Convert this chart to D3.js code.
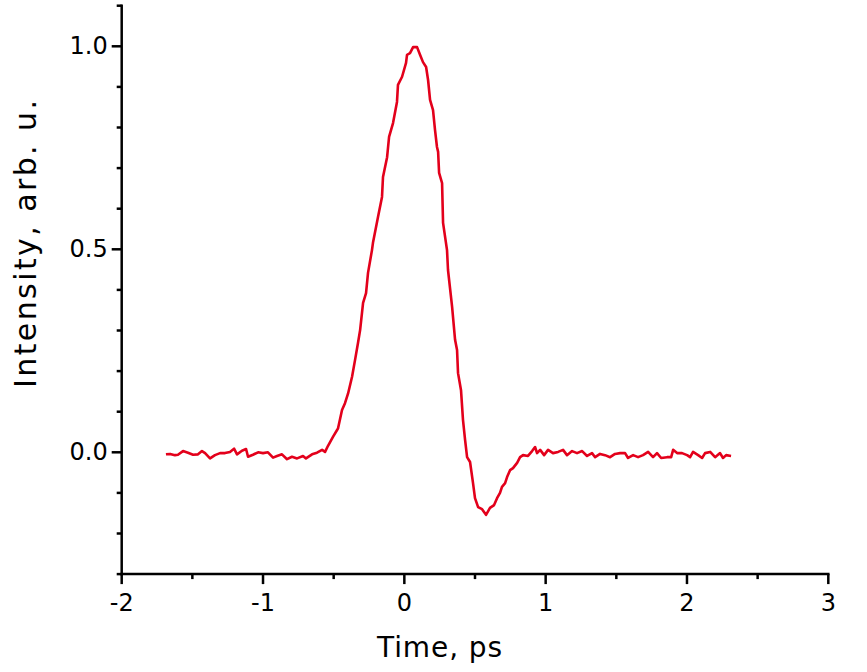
<!DOCTYPE html>
<html lang="en">
<head>
  <meta charset="UTF-8">
  <title>Pulse intensity vs time</title>
  <script src="https://d3js.org/d3.v7.min.js"></script>
  <style>
    body { margin: 0; background: #fff; }
    svg text { font-family: "DejaVu Sans", Verdana, sans-serif; fill: #000; }
  </style>
</head>
<body>
  <svg id="chart" width="867" height="672"></svg>
  <script>
    // time, ps
    const time = [
      -1.687, -1.658, -1.623, -1.602, -1.566, -1.531, -1.495, -1.460, -1.432, -1.410,
      -1.375, -1.340, -1.304, -1.269, -1.234, -1.205, -1.184, -1.149, -1.120, -1.106,
      -1.071, -1.035, -1.000, -0.965, -0.929, -0.901, -0.866, -0.830, -0.795, -0.759,
      -0.717, -0.696, -0.653, -0.618, -0.582, -0.561, -0.540, -0.505, -0.476, -0.469,
      -0.441, -0.420, -0.398, -0.370, -0.349, -0.328, -0.313, -0.292, -0.271, -0.257,
      -0.229, -0.222, -0.186, -0.158, -0.151, -0.122, -0.108, -0.080, -0.052, -0.045,
      -0.016, 0.012, 0.019, 0.040, 0.062, 0.090, 0.111, 0.132, 0.154, 0.168,
      0.182, 0.203, 0.217, 0.231, 0.239, 0.246, 0.267, 0.274, 0.302, 0.309,
      0.338, 0.359, 0.373, 0.380, 0.401, 0.415, 0.430, 0.444, 0.465, 0.486,
      0.500, 0.522, 0.550, 0.578, 0.606, 0.635, 0.656, 0.677, 0.691, 0.713,
      0.727, 0.748, 0.769, 0.798, 0.819, 0.840, 0.875, 0.904, 0.925, 0.939,
      0.961, 0.989, 1.017, 1.052, 1.088, 1.123, 1.151, 1.187, 1.222, 1.258,
      1.293, 1.328, 1.350, 1.385, 1.420, 1.456, 1.491, 1.527, 1.562, 1.583,
      1.619, 1.654, 1.689, 1.725, 1.760, 1.788, 1.817, 1.859, 1.888, 1.902,
      1.930, 1.965, 2.001, 2.022, 2.043, 2.079, 2.107, 2.128, 2.164, 2.199,
      2.234, 2.255, 2.277, 2.312
    ];
    // intensity, arb. u.
    const intensity = [
      -0.005, -0.004, -0.007, -0.006, 0.003, -0.001, -0.006, -0.005, 0.003, -0.002,
      -0.015, -0.007, -0.002, -0.002, 0.001, 0.009, -0.005, 0.004, 0.008, -0.011,
      -0.006, 0.000, -0.002, 0.000, -0.013, -0.009, -0.005, -0.017, -0.011, -0.015,
      -0.009, -0.015, -0.005, -0.001, 0.006, 0.001, 0.016, 0.038, 0.055, 0.059,
      0.104, 0.121, 0.145, 0.186, 0.227, 0.269, 0.301, 0.368, 0.392, 0.442,
      0.498, 0.516, 0.580, 0.629, 0.678, 0.727, 0.777, 0.811, 0.863, 0.905,
      0.925, 0.959, 0.979, 0.983, 0.998, 0.998, 0.979, 0.961, 0.949, 0.917,
      0.868, 0.843, 0.794, 0.752, 0.740, 0.688, 0.663, 0.565, 0.498, 0.449,
      0.358, 0.277, 0.252, 0.195, 0.153, 0.080, 0.030, -0.012, -0.024, -0.076,
      -0.113, -0.135, -0.140, -0.154, -0.137, -0.130, -0.113, -0.100, -0.085, -0.076,
      -0.061, -0.044, -0.039, -0.026, -0.012, -0.007, -0.009, 0.003, 0.013, -0.002,
      0.006, -0.007, 0.006, -0.002, 0.001, 0.006, -0.007, 0.003, -0.002, 0.003,
      -0.009, -0.002, -0.012, -0.004, -0.007, -0.012, -0.004, -0.002, -0.002, -0.014,
      -0.007, -0.012, -0.007, 0.001, -0.012, -0.002, -0.014, -0.012, -0.012, 0.006,
      -0.002, -0.002, -0.007, -0.012, 0.001, -0.007, -0.014, -0.002, 0.001, -0.012,
      -0.002, -0.014, -0.007, -0.009
    ];
    const xMajor = [-2, -1, 0, 1, 2, 3];
    const xMinor = [-1.5, -0.5, 0.5, 1.5, 2.5];
    const yMajor = [0, 0.5, 1.0];
    const yMinor = [-0.3, -0.2, -0.1, 0.1, 0.2, 0.3, 0.4, 0.6, 0.7, 0.8, 0.9, 1.1];

    const svg = d3.select("#chart");
    const x = d3.scaleLinear().domain([-2, 3]).range([121.7, 828.3]);
    const y = d3.scaleLinear().domain([-0.3, 1.1]).range([574.1, 5.7]);

    const data = time.map((t, i) => ({ t: t, v: intensity[i] }));

    // axes
    const axisG = svg.append("g").attr("stroke", "#000").attr("stroke-width", 2.5).attr("fill", "none");
    axisG.append("line").attr("x1", x(-2)).attr("x2", x(3)).attr("y1", y(-0.3)).attr("y2", y(-0.3)).attr("stroke-linecap", "square");
    axisG.append("line").attr("x1", x(-2)).attr("x2", x(-2)).attr("y1", y(-0.3)).attr("y2", y(1.1)).attr("stroke-linecap", "square");

    axisG.selectAll(".xmaj").data(xMajor).enter().append("line")
      .attr("x1", d => x(d)).attr("x2", d => x(d)).attr("y1", y(-0.3)).attr("y2", y(-0.3) + 10);
    axisG.selectAll(".xmin").data(xMinor).enter().append("line")
      .attr("x1", d => x(d)).attr("x2", d => x(d)).attr("y1", y(-0.3)).attr("y2", y(-0.3) + 5);
    axisG.selectAll(".ymaj").data(yMajor).enter().append("line")
      .attr("x1", x(-2) - 10).attr("x2", x(-2)).attr("y1", d => y(d)).attr("y2", d => y(d));
    axisG.selectAll(".ymin").data(yMinor).enter().append("line")
      .attr("x1", x(-2) - 5).attr("x2", x(-2)).attr("y1", d => y(d)).attr("y2", d => y(d));

    svg.selectAll(".xlab").data(xMajor).enter().append("text")
      .attr("x", d => x(d)).attr("y", y(-0.3) + 37)
      .attr("text-anchor", "middle").attr("font-size", 24)
      .text(d => d);
    svg.selectAll(".ylab").data(yMajor).enter().append("text")
      .attr("x", x(-2) - 14).attr("y", d => y(d) + 8)
      .attr("text-anchor", "end").attr("font-size", 24)
      .text(d => d.toFixed(1));

    svg.append("text").attr("x", 439.5).attr("y", 657)
      .attr("text-anchor", "middle").attr("font-size", 28)
      .attr("textLength", 125).attr("lengthAdjust", "spacing").text("Time, ps");
    svg.append("text").attr("transform", "translate(36,388) rotate(-90)")
      .attr("text-anchor", "start").attr("font-size", 30)
      .attr("textLength", 288).attr("lengthAdjust", "spacing").text("Intensity, arb. u.");

    // curve
    const line = d3.line().x(d => x(d.t)).y(d => y(d.v));
    svg.append("path").datum(data)
      .attr("d", line)
      .attr("fill", "none")
      .attr("stroke", "#e3001b")
      .attr("stroke-width", 2.6)
      .attr("stroke-linejoin", "round");
  </script>
</body>
</html>
